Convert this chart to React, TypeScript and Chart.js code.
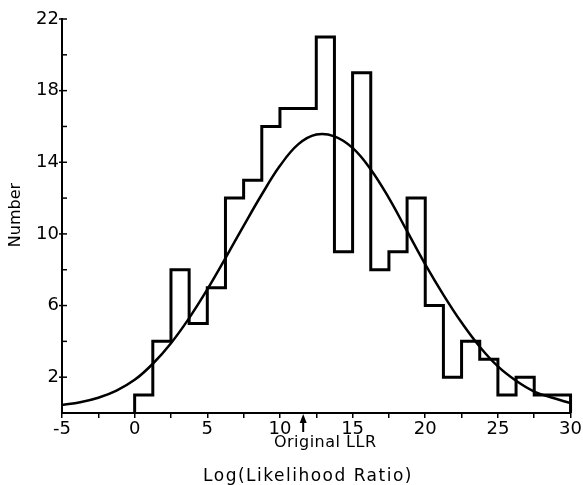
import React, { useEffect, useRef } from "react";
import { Chart, registerables } from "chart.js";

Chart.register(...registerables);

// Histogram bin edges and counts
const binEdges = [0, 1.25, 2.5, 3.75, 5, 6.25, 7.5, 8.75, 10, 11.25, 12.5, 13.75, 15, 16.25, 17.5, 18.75, 20, 21.25, 22.5, 23.75, 25, 26.25, 27.5, 28.75, 30];
const binCounts = [1, 4, 8, 5, 7, 12, 13, 16, 17, 17, 21, 9, 19, 8, 9, 12, 6, 2, 4, 3, 1, 2, 1, 1];

// Fitted curve
const curveX = [-5, -3.75, -2.5, -1.25, 0, 1.25, 2.5, 3.75, 5, 6.25, 7.5, 8.75, 10, 11.25, 12.5, 13.75, 15, 16.25, 17.5, 18.75, 20, 21.25, 22.5, 23.75, 25, 26.25, 27.5, 28.75, 30];
const curveY = [0.45, 0.6, 0.85, 1.25, 1.85, 2.75, 3.9, 5.3, 6.9, 8.65, 10.45, 12.2, 13.8, 15.0, 15.55, 15.45, 14.8, 13.6, 12.0, 10.15, 8.3, 6.6, 5.05, 3.7, 2.6, 1.8, 1.2, 0.85, 0.55];

const xTickLabels = [-5, 0, 5, 10, 15, 20, 25, 30];
const yTickLabels = [2, 6, 10, 14, 18, 22];
const yTickMarks = [2, 4, 6, 8, 10, 12, 14, 16, 18, 20, 22];
const originalLLR = 11.6;

const FONT = "'DejaVu Sans', sans-serif";

const annotations = {
  id: "annotations",
  afterDraw(chart: any) {
    const ctx = chart.ctx;
    const xs = chart.scales.x;
    const ys = chart.scales.y;
    const left = chart.chartArea.left;
    const bottom = chart.chartArea.bottom;
    ctx.save();
    ctx.strokeStyle = "#000";
    ctx.fillStyle = "#000";
    // y ticks (inward)
    ctx.lineWidth = 1.5;
    yTickMarks.forEach((v) => {
      const py = ys.getPixelForValue(v);
      const labeled = yTickLabels.includes(v);
      ctx.beginPath();
      ctx.moveTo(left - (labeled ? 3 : 0), py);
      ctx.lineTo(left + 5, py);
      ctx.stroke();
    });
    // arrow for original LLR
    const ax = xs.getPixelForValue(originalLLR);
    ctx.lineWidth = 2;
    ctx.beginPath();
    ctx.moveTo(ax, bottom + 19);
    ctx.lineTo(ax, bottom + 6);
    ctx.stroke();
    ctx.beginPath();
    ctx.moveTo(ax, bottom + 1);
    ctx.lineTo(ax - 3.5, bottom + 10);
    ctx.lineTo(ax + 3.5, bottom + 10);
    ctx.closePath();
    ctx.fill();
    // Original LLR label
    ctx.font = `16px ${FONT}`;
    (ctx as any).letterSpacing = "0.5px";
    ctx.textAlign = "center";
    ctx.textBaseline = "middle";
    ctx.fillText("Original LLR", ax + 22, bottom + 30);
    // x title
    ctx.font = `17px ${FONT}`;
    (ctx as any).letterSpacing = "1.5px";
    ctx.fillText("Log(Likelihood Ratio)", 308, 477);
    // y title
    (ctx as any).letterSpacing = "0px";
    ctx.font = `16px ${FONT}`;
    ctx.translate(16, 215);
    ctx.rotate(-Math.PI / 2);
    ctx.fillText("Number", 0, 0);
    ctx.restore();
  },
};

export default function App() {
  const ref = useRef<HTMLCanvasElement | null>(null);
  useEffect(() => {
    document.body.style.margin = "0";
    const canvas = ref.current;
    if (!canvas) return;
    const histData = [
      { x: binEdges[0], y: 0 },
      ...binCounts.map((c, i) => ({ x: binEdges[i], y: c })),
      { x: binEdges[binEdges.length - 1], y: binCounts[binCounts.length - 1] },
      { x: binEdges[binEdges.length - 1], y: 0 },
    ];
    const curveData = curveX.map((x, i) => ({ x, y: curveY[i] }));
    const chart = new Chart(canvas, {
      type: "line",
      data: {
        datasets: [
          {
            data: histData,
            stepped: true,
            borderColor: "#000",
            borderWidth: 3,
            pointRadius: 0,
            fill: false,
            clip: 5,
          } as any,
          {
            data: curveData,
            tension: 0.4,
            borderColor: "#000",
            borderWidth: 2.5,
            pointRadius: 0,
            fill: false,
            clip: 5,
          } as any,
        ],
      },
      options: {
        responsive: false,
        animation: false,
        layout: { padding: { left: 0, right: 11, top: 19, bottom: 0 } },
        plugins: { legend: { display: false }, tooltip: { enabled: false } },
        scales: {
          x: {
            type: "linear",
            min: -5,
            max: 30,
            afterFit: (s: any) => {
              s.height = 72;
            },
            ticks: {
              stepSize: 2.5,
              autoSkip: false,
              maxRotation: 0,
              padding: 1,
              color: "#000",
              font: { family: FONT, size: 18 },
              callback: (v: any) => (xTickLabels.includes(Number(v)) ? String(v) : ""),
            },
            grid: { drawOnChartArea: false, tickLength: 5, color: "#000", lineWidth: 1.5 },
            border: { display: true, color: "#000", width: 2 },
          },
          y: {
            type: "linear",
            min: 0,
            max: 22,
            afterFit: (s: any) => {
              s.width = 62;
            },
            ticks: {
              stepSize: 2,
              autoSkip: false,
              padding: 3,
              color: "#000",
              font: { family: FONT, size: 18 },
              callback: (v: any) => (yTickLabels.includes(Number(v)) ? String(v) : ""),
            },
            grid: { display: false, drawOnChartArea: false, tickLength: 0 },
            border: { display: true, color: "#000", width: 2 },
          },
        },
      },
      plugins: [annotations],
    });
    return () => chart.destroy();
  }, []);
  return (
    <div style={{ width: 583, height: 485 }}>
      <canvas ref={ref} width={583} height={485} style={{ display: "block" }} />
    </div>
  );
}
